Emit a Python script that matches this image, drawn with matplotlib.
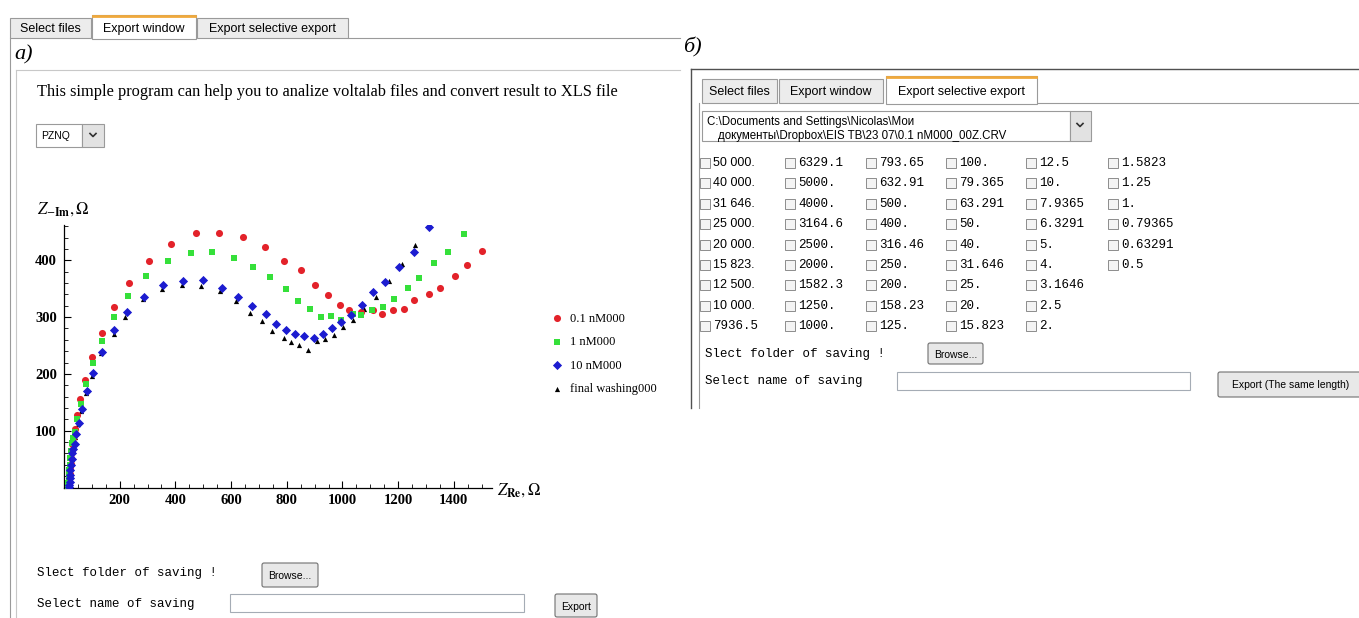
import matplotlib
matplotlib.use('Agg')
import matplotlib.pyplot as plt
from matplotlib.patches import Rectangle, FancyBboxPatch
from matplotlib.ticker import MultipleLocator

plt.rcParams['mathtext.fontset'] = 'stix'

# Nyquist data, Z_Re vs Z_-Im (Ohm)
red_x = [16, 17, 18, 19, 21, 22, 24, 26, 28, 30, 33, 38, 47, 57, 75, 99, 136, 180, 232, 305, 385,
         474, 557, 642, 723, 791, 852, 900, 948, 991, 1024, 1066, 1108, 1142, 1182, 1222, 1258, 1311,
         1351, 1404, 1447, 1500]
red_y = [2, 6, 11, 17, 24, 32, 41, 52, 64, 76, 88, 103, 127, 156, 190, 230, 272, 318, 360, 399, 428,
         448, 448, 441, 423, 399, 383, 357, 338, 322, 312, 309, 313, 306, 312, 314, 330, 340,
         352, 372, 392, 417]
green_x = [15, 16, 17, 18, 19, 21, 23, 25, 28, 32, 41, 48, 61, 79, 104, 136, 180, 231, 294, 372,
           456, 532, 610, 680, 740, 796, 840, 883, 924, 960, 996, 1037, 1068, 1105, 1144, 1185, 1234,
           1274, 1330, 1378, 1435]
green_y = [3, 8, 14, 21, 30, 40, 52, 64, 78, 88, 98, 121, 147, 182, 219, 258, 300, 337, 372, 399,
           412, 414, 404, 388, 370, 350, 329, 315, 300, 302, 294, 305, 304, 312, 317, 331, 351,
           369, 395, 414, 446]
blue_x = [18, 19, 20, 21, 22, 23, 25, 27, 30, 34, 39.5, 44, 53, 63.5, 84, 103, 136, 181, 226, 288,
          357, 428, 498, 566, 624, 676, 724, 761, 797, 830, 862, 898, 930, 962, 996, 1032, 1071,
          1111, 1154, 1203, 1256, 1312]
blue_y = [1, 5, 10, 16, 22, 30, 40, 50, 60, 68, 76, 94, 114, 139, 169, 202, 238, 277, 309, 335,
          356, 364, 365, 352, 335, 319, 305, 288, 278, 270, 267, 264, 271, 281, 291, 303, 321,
          344, 361, 388, 414, 458]
black_x = [17, 18, 19, 20, 21, 23, 25, 27, 30, 34, 40.6, 50, 61, 80, 101.6, 133, 178, 220, 285, 352,
           423, 493, 560, 616, 668, 711, 748, 789, 816, 845, 877, 910, 939, 969, 1003, 1038, 1078,
           1119, 1167, 1213, 1260]
black_y = [0, 4, 9, 15, 22, 30, 40, 50, 62, 75, 89, 112, 135, 166, 196, 237, 271, 300, 331, 350,
           357, 355, 346, 328, 308, 293, 275, 264, 256, 251, 242, 258, 262, 269, 282, 295, 314,
           335, 363, 393, 426]
series_names = ['0.1 nM000', '1 nM000', '10 nM000', 'final washing000']

tab_names = ['Select files', 'Export window', 'Export selective export']

# frequency checkboxes, one list per column
freq_cols = [
    ['50 000.', '40 000.', '31 646.', '25 000.', '20 000.', '15 823.', '12 500.', '10 000.', '7936.5'],
    ['6329.1', '5000.', '4000.', '3164.6', '2500.', '2000.', '1582.3', '1250.', '1000.'],
    ['793.65', '632.91', '500.', '400.', '316.46', '250.', '200.', '158.23', '125.'],
    ['100.', '79.365', '63.291', '50.', '40.', '31.646', '25.', '20.', '15.823'],
    ['12.5', '10.', '7.9365', '6.3291', '5.', '4.', '3.1646', '2.5', '2.'],
    ['1.5823', '1.25', '1.', '0.79365', '0.63291', '0.5'],
]

W, H = 1359, 618
fig = plt.figure(figsize=(W / 100, H / 100), dpi=100)
fig.patch.set_facecolor('white')

ui = fig.add_axes([0, 0, 1, 1])
ui.set_xlim(0, W)
ui.set_ylim(H, 0)
ui.axis('off')

SANS = 'Liberation Sans'
SERIF = 'Liberation Serif'
MONO = 'Liberation Mono'
EDGE = '#9a9a9a'


def box(x0, y0, x1, y1, fc='white', ec=EDGE, lw=0.8, z=2):
    ui.add_patch(Rectangle((x0, y0), x1 - x0, y1 - y0, fc=fc, ec=ec, lw=lw, zorder=z))


def button(x0, y0, x1, y1, label, size=7.5):
    ui.add_patch(FancyBboxPatch((x0 + 1, y0 + 1), x1 - x0 - 2, y1 - y0 - 2,
                                boxstyle='round,pad=1,rounding_size=2',
                                fc='#e8e8e8', ec='#707070', lw=0.8, zorder=2))
    ui.text((x0 + x1) / 2, (y0 + y1) / 2 + 1, label, ha='center', va='center',
            family=SANS, fontsize=size, zorder=3)


def hline(y, x0, x1, color=EDGE, lw=0.8):
    ui.plot([x0, x1], [y, y], color=color, lw=lw, zorder=1)


def vline(x, y0, y1, color=EDGE, lw=0.8):
    ui.plot([x, x], [y0, y1], color=color, lw=lw, zorder=1)


def tabs(spans, top, bottom, active):
    for i, (x0, x1) in enumerate(spans):
        if i == active:
            box(x0, top - 3, x1, bottom + 1, fc='white', ec=EDGE, z=3)
            ui.plot([x0 + 1, x1 - 1], [top - 2.5, top - 2.5], color='#f0a93c', lw=2, zorder=4)
        else:
            box(x0, top, x1, bottom, fc='#ececec', ec=EDGE)
        ui.text((x0 + x1) / 2, (top + bottom) / 2 + 1, tab_names[i], ha='center', va='center',
                family=SANS, fontsize=9, zorder=5)


def dropdown_arrow(x, y):
    ui.plot([x - 3, x, x + 3], [y - 1.5, y + 1.5, y - 1.5], color='#303030', lw=1.2, zorder=4)


# ---------- left window: export window ----------
tabs([(10, 91), (92, 196), (197, 348)], 18, 38, 1)
hline(38, 348, 680)
vline(10, 38, 618)
vline(16, 70, 618, color='#c8c8c8')
hline(70, 16, 680, color='#c8c8c8')
ui.text(14, 55, 'a)', family=SERIF, style='italic', fontsize=16, va='center')
ui.text(37, 92, 'This simple program can help you to analize voltalab files and convert result to XLS file',
        family=SERIF, fontsize=11.8, va='center')

box(36, 124, 82, 147)
ui.text(41, 136, 'PZNQ', family=SANS, fontsize=7.5, va='center', zorder=3)
box(82, 124, 104, 147, fc='#e2e2e2')
dropdown_arrow(93, 135)

ui.text(37, 573, 'Slect folder of saving !', family=MONO, fontsize=9, va='center')
button(262, 563, 318, 587, 'Browse...')
ui.text(37, 604, 'Select name of saving', family=MONO, fontsize=9, va='center')
box(230, 594, 524, 612, ec='#a5acb5')
button(555, 594, 597, 617, 'Export')

# ---------- impedance plot ----------
ax = fig.add_axes([64 / W, 1 - 487.5 / H, (492 - 64) / W, (487.5 - 225) / H])
ax.patch.set_alpha(0)
ax.set_xlim(0, 1537)
ax.set_ylim(0, 462)
for side in ('top', 'right'):
    ax.spines[side].set_visible(False)
for side in ('left', 'bottom'):
    ax.spines[side].set_linewidth(0.9)

h_black = ax.scatter(black_x, black_y, marker='^', s=14, color='black', lw=0, zorder=2)
h_red = ax.scatter(red_x, red_y, marker='o', s=26, color='#e3222a', lw=0, zorder=3)
h_green = ax.scatter(green_x, green_y, marker='s', s=22, color='#35e03a', lw=0, zorder=4)
h_blue = ax.scatter(blue_x, blue_y, marker='D', s=22, color='#1c1cd0', lw=0, zorder=5)

ax.set_xticks(range(200, 1401, 200))
ax.set_yticks(range(100, 401, 100))
ax.xaxis.set_minor_locator(MultipleLocator(50))
ax.yaxis.set_minor_locator(MultipleLocator(20))
ax.tick_params(which='major', direction='in', length=5, width=0.8, pad=5)
ax.tick_params(which='minor', direction='in', length=3, width=0.6)
for lab in ax.get_xticklabels() + ax.get_yticklabels():
    lab.set_family(SERIF)
    lab.set_fontweight('bold')
    lab.set_fontsize(10.5)

ui.text(37, 209, r'$Z_{-\mathbf{Im}},\Omega$', fontsize=12, va='center')
ui.text(497, 490, r'$Z_{\mathbf{Re}},\Omega$', fontsize=12, va='center')

ax.legend([h_red, h_green, h_blue, h_black], series_names, loc='upper left',
          bbox_to_anchor=(552 / W, 1 - 312.5 / H), bbox_transform=fig.transFigure,
          frameon=False, prop={'family': SERIF, 'size': 9}, handlelength=0.8,
          handletextpad=0.6, labelspacing=0.93, borderpad=0, borderaxespad=0, scatterpoints=1)

# ---------- right window: selective export ----------
ui.text(683, 47, 'б)', family=SERIF, style='italic', fontsize=16, va='center')
hline(69, 691, W, color='#505050', lw=1)
vline(691, 69, 408, color='#505050', lw=1)
tabs([(702, 777), (779, 883), (886, 1037)], 79, 103, 2)
hline(103, 1037, W)
vline(699, 103, 408)

box(702, 111, 1070, 141)
ui.text(707, 122, 'C:\\Documents and Settings\\Nicolas\\Мои', family=SANS, fontsize=8.3, va='center', zorder=3)
ui.text(718, 136, 'документы\\Dropbox\\EIS TB\\23 07\\0.1 nM000_00Z.CRV', family=SANS, fontsize=8.3,
        va='center', zorder=3)
box(1070, 111, 1091, 141, fc='#e2e2e2')
dropdown_arrow(1080, 125)

col_x = [700, 785, 866, 946, 1026, 1108]
row_y0, row_dy = 163, 20.4
for c, labels in enumerate(freq_cols):
    for r, lab in enumerate(labels):
        y = row_y0 + r * row_dy
        box(col_x[c], y - 5, col_x[c] + 10, y + 5, fc='#f4f4f4', ec='#8c8c8c', lw=0.7)
        fam = SANS if c == 0 and ' ' in lab else MONO
        ui.text(col_x[c] + 13, y, lab, family=fam, fontsize=9, va='center')

ui.text(705, 354, 'Slect folder of saving !', family=MONO, fontsize=9, va='center')
button(928, 343, 983, 364, 'Browse...')
ui.text(705, 381, 'Select name of saving', family=MONO, fontsize=9, va='center')
box(897, 372, 1190, 390, ec='#a5acb5')
button(1218, 372, 1364, 397, 'Export (The same length)')

fig.savefig('out.png', dpi=100)
